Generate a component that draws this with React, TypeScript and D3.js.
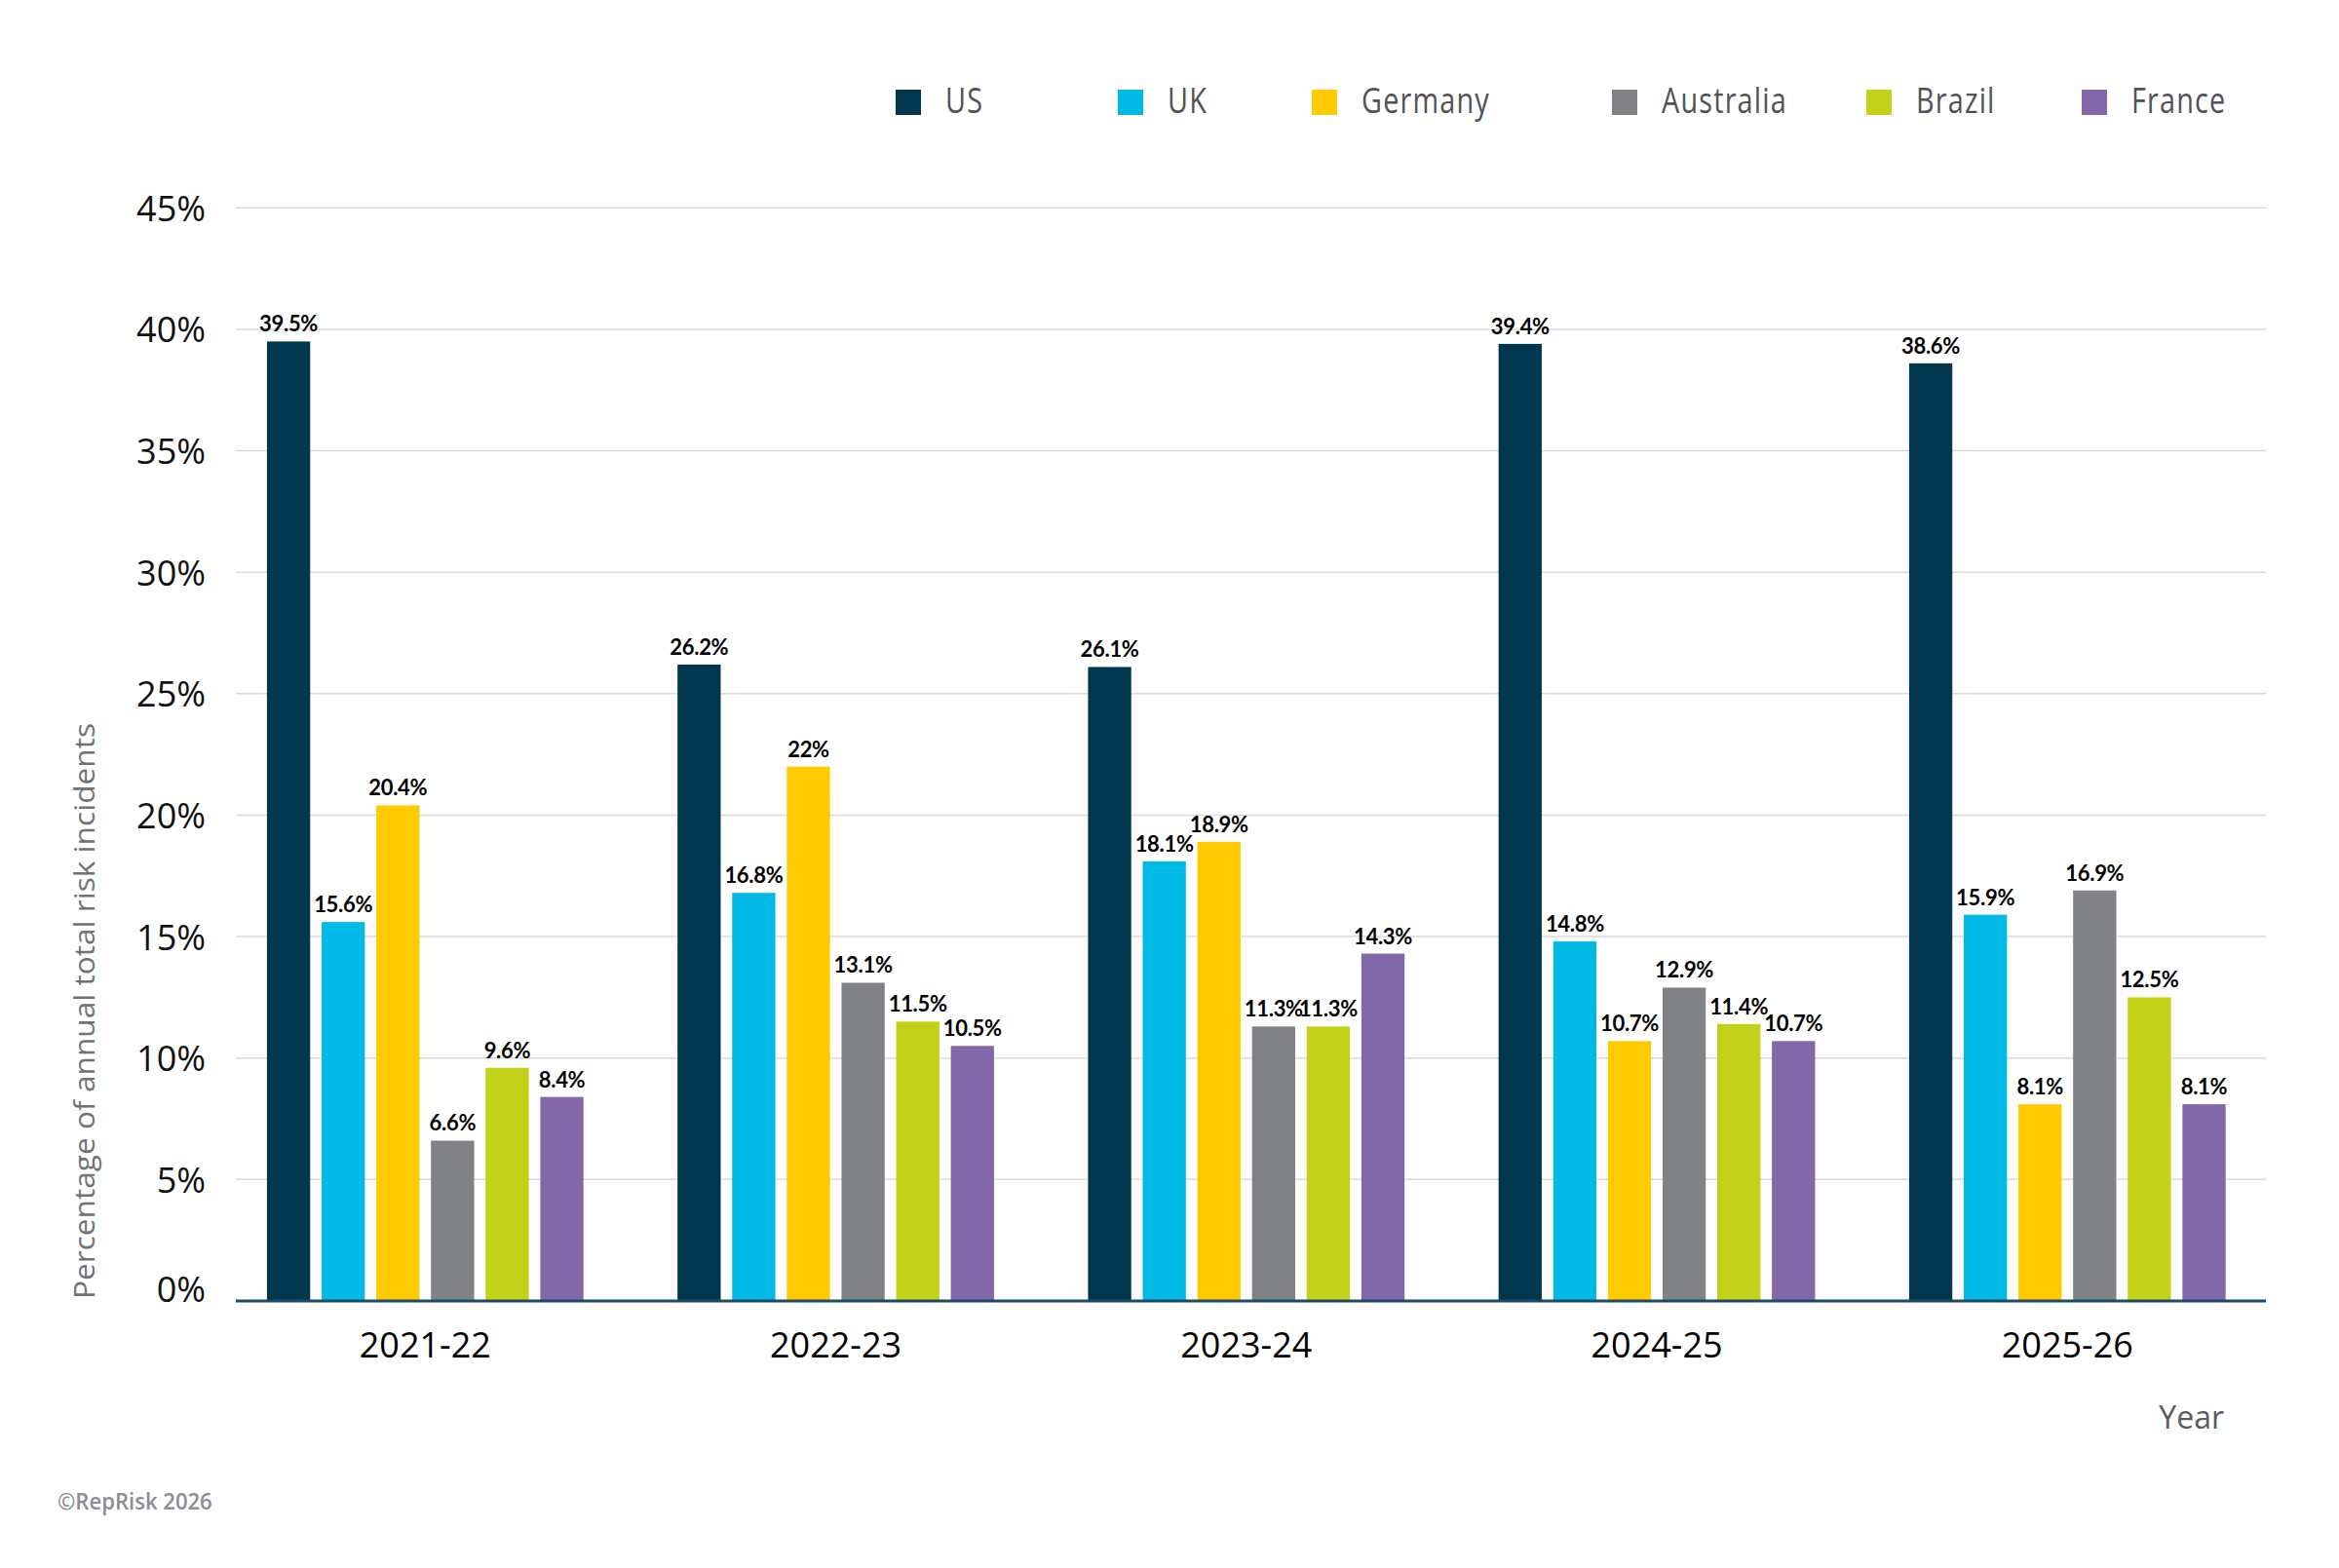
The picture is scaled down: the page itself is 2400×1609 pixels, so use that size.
import React, { useEffect, useRef } from 'react';
import * as d3 from 'd3';

// chart data
const years = ['2021-22', '2022-23', '2023-24', '2024-25', '2025-26'];
const countries = ['US', 'UK', 'Germany', 'Australia', 'Brazil', 'France'];
const usValues = [39.5, 26.2, 26.1, 39.4, 38.6];
const ukValues = [15.6, 16.8, 18.1, 14.8, 15.9];
const germanyValues = [20.4, 22, 18.9, 10.7, 8.1];
const australiaValues = [6.6, 13.1, 11.3, 12.9, 16.9];
const brazilValues = [9.6, 11.5, 11.3, 11.4, 12.5];
const franceValues = [8.4, 10.5, 14.3, 10.7, 8.1];
const yTicks = [0, 5, 10, 15, 20, 25, 30, 35, 40, 45];

const colors = ['#00374f', '#00b9e4', '#ffcb00', '#808285', '#c4d119', '#8268a8'];
// legend swatch x positions (layout only)
const legendX = [919, 1147, 1346, 1654, 1915, 2136];

interface Row {
  year: string;
  country: string;
  value: number;
}

const App: React.FC = () => {
  const ref = useRef<SVGSVGElement>(null);

  useEffect(() => {
    const svgWidth = 2400, svgHeight = 1609;
    const seriesValues = [usValues, ukValues, germanyValues, australiaValues, brazilValues, franceValues];
    const rows: Row[] = [];
    years.forEach((year, i) => {
      countries.forEach((country, j) => {
        rows.push({ year, country, value: seriesValues[j][i] });
      });
    });

    d3.select(ref.current).selectAll('*').remove();
    const svg = d3.select(ref.current)
      .attr('width', svgWidth)
      .attr('height', svgHeight);

    svg.append('rect')
      .attr('width', svgWidth)
      .attr('height', svgHeight)
      .attr('fill', '#ffffff');

    const gridLeft = 242, gridRight = 2325;

    const x0 = d3.scaleBand<string>()
      .domain(years)
      .range([225.7, 2331.9]);

    const x1 = d3.scaleBand<string>()
      .domain(countries)
      .range([0, x0.bandwidth()])
      .paddingInner(0.21)
      .paddingOuter(0.86);

    const y = d3.scaleLinear()
      .domain([0, 45])
      .range([1335, 213.3]);

    const color = d3.scaleOrdinal<string, string>().domain(countries).range(colors);

    // gridlines
    svg.append('g')
      .selectAll('line')
      .data(yTicks.filter(t => t > 0))
      .join('line')
      .attr('x1', gridLeft)
      .attr('x2', gridRight)
      .attr('y1', d => y(d))
      .attr('y2', d => y(d))
      .attr('stroke', '#dadada')
      .attr('stroke-width', 1.5);

    // y tick labels
    svg.append('g')
      .selectAll('text')
      .data(yTicks)
      .join('text')
      .attr('x', 211)
      .attr('y', d => Math.min(y(d), y(0) - 13))
      .attr('text-anchor', 'end')
      .attr('dominant-baseline', 'central')
      .attr('font-family', '"Open Sans", "Noto Sans", sans-serif')
      .attr('font-size', 36)
      .attr('fill', '#111111')
      .text(d => `${d}%`);

    // bars
    svg.append('g')
      .selectAll('rect')
      .data(rows)
      .join('rect')
      .attr('x', d => (x0(d.year) ?? 0) + (x1(d.country) ?? 0))
      .attr('y', d => y(d.value))
      .attr('width', x1.bandwidth())
      .attr('height', d => y(0) - y(d.value))
      .attr('fill', d => color(d.country));

    // value labels
    svg.append('g')
      .selectAll('text')
      .data(rows)
      .join('text')
      .attr('x', d => (x0(d.year) ?? 0) + (x1(d.country) ?? 0) + x1.bandwidth() / 2)
      .attr('y', d => y(d.value) - 10)
      .attr('text-anchor', 'middle')
      .attr('font-family', 'Lato, "Open Sans", sans-serif')
      .attr('font-weight', 700)
      .attr('font-size', 22)
      .attr('letter-spacing', -0.3)
      .attr('fill', '#000000')
      .text(d => `${d.value}%`);

    // baseline
    svg.append('line')
      .attr('x1', gridLeft)
      .attr('x2', gridRight)
      .attr('y1', y(0))
      .attr('y2', y(0))
      .attr('stroke', '#1d4a66')
      .attr('stroke-width', 3);

    // category labels
    svg.append('g')
      .selectAll('text')
      .data(years)
      .join('text')
      .attr('x', d => (x0(d) ?? 0) + x0.bandwidth() / 2)
      .attr('y', 1393)
      .attr('text-anchor', 'middle')
      .attr('font-family', '"Open Sans", "Noto Sans", sans-serif')
      .attr('font-size', 36)
      .attr('fill', '#000000')
      .text(d => d);

    // axis titles
    svg.append('text')
      .attr('transform', 'translate(97,1333) rotate(-90)')
      .attr('text-anchor', 'start')
      .attr('font-family', '"Open Sans", "Noto Sans", sans-serif')
      .attr('font-size', 30)
      .attr('fill', '#707275')
      .attr('textLength', 591)
      .attr('lengthAdjust', 'spacingAndGlyphs')
      .text('Percentage of annual total risk incidents');

    svg.append('text')
      .attr('x', 2282)
      .attr('y', 1466)
      .attr('text-anchor', 'end')
      .attr('font-family', '"Open Sans", "Noto Sans", sans-serif')
      .attr('font-size', 32)
      .attr('fill', '#5a5c60')
      .text('Year');

    // legend
    const legend = svg.append('g')
      .selectAll('g')
      .data(countries)
      .join('g')
      .attr('transform', (_, i) => `translate(${legendX[i]},92)`);

    legend.append('rect')
      .attr('width', 26)
      .attr('height', 26)
      .attr('fill', d => color(d));

    legend.append('text')
      .attr('transform', 'translate(51,24) scale(0.8,1)')
      .attr('font-family', '"Open Sans", "Noto Sans", sans-serif')
      .attr('font-size', 36)
      .attr('letter-spacing', 1.5)
      .attr('fill', '#505256')
      .text(d => d);

    // footer
    svg.append('text')
      .attr('transform', 'translate(59,1549) scale(0.96,1)')
      .attr('font-family', '"Open Sans", "Noto Sans", sans-serif')
      .attr('font-weight', 600)
      .attr('font-size', 23)
      .attr('fill', '#8b8d90')
      .text('©RepRisk 2026');
  }, []);

  return <svg ref={ref} style={{ position: 'absolute', left: 0, top: 0, display: 'block' }} />;
};

export default App;
